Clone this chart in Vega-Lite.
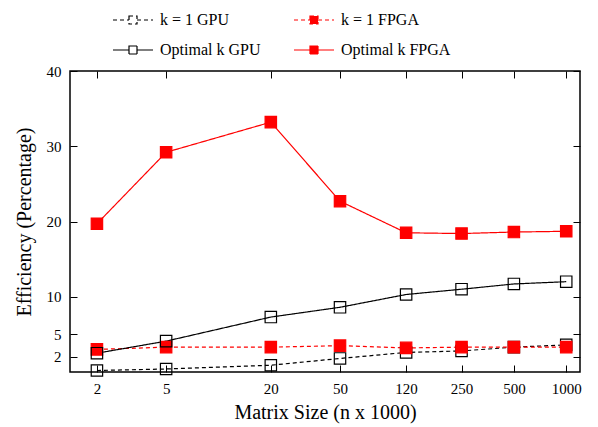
{
  "$schema": "https://vega.github.io/schema/vega-lite/v6.json",
  "autosize": "none",
  "width": 510,
  "height": 301,
  "padding": {"left": 70, "top": 71, "right": 18, "bottom": 55},
  "background": "white",
  "config": {
    "font": "Liberation Serif",
    "view": {"stroke": "black", "strokeWidth": 1.5},
    "axis": {"labelFont": "Liberation Serif", "titleFont": "Liberation Serif", "labelColor": "black", "titleColor": "black", "grid": false, "domain": false, "tickColor": "black", "labelFontSize": 15, "titleFontSize": 20, "titleFontWeight": "normal", "tickWidth": 1}
  },
  "data": {"values": [
    {"n": 2, "series": "k = 1 GPU", "eff": 0.2},
    {"n": 5, "series": "k = 1 GPU", "eff": 0.4},
    {"n": 20, "series": "k = 1 GPU", "eff": 0.9},
    {"n": 50, "series": "k = 1 GPU", "eff": 1.8},
    {"n": 120, "series": "k = 1 GPU", "eff": 2.6},
    {"n": 250, "series": "k = 1 GPU", "eff": 2.8},
    {"n": 500, "series": "k = 1 GPU", "eff": 3.3},
    {"n": 1000, "series": "k = 1 GPU", "eff": 3.6},
    {"n": 2, "series": "k = 1 FPGA", "eff": 3.0},
    {"n": 5, "series": "k = 1 FPGA", "eff": 3.3},
    {"n": 20, "series": "k = 1 FPGA", "eff": 3.3},
    {"n": 50, "series": "k = 1 FPGA", "eff": 3.5},
    {"n": 120, "series": "k = 1 FPGA", "eff": 3.2},
    {"n": 250, "series": "k = 1 FPGA", "eff": 3.3},
    {"n": 500, "series": "k = 1 FPGA", "eff": 3.3},
    {"n": 1000, "series": "k = 1 FPGA", "eff": 3.3},
    {"n": 2, "series": "Optimal k GPU", "eff": 2.5},
    {"n": 5, "series": "Optimal k GPU", "eff": 4.1},
    {"n": 20, "series": "Optimal k GPU", "eff": 7.3},
    {"n": 50, "series": "Optimal k GPU", "eff": 8.6},
    {"n": 120, "series": "Optimal k GPU", "eff": 10.3},
    {"n": 250, "series": "Optimal k GPU", "eff": 11.0},
    {"n": 500, "series": "Optimal k GPU", "eff": 11.7},
    {"n": 1000, "series": "Optimal k GPU", "eff": 12.0},
    {"n": 2, "series": "Optimal k FPGA", "eff": 19.7},
    {"n": 5, "series": "Optimal k FPGA", "eff": 29.2},
    {"n": 20, "series": "Optimal k FPGA", "eff": 33.2},
    {"n": 50, "series": "Optimal k FPGA", "eff": 22.7},
    {"n": 120, "series": "Optimal k FPGA", "eff": 18.5},
    {"n": 250, "series": "Optimal k FPGA", "eff": 18.4},
    {"n": 500, "series": "Optimal k FPGA", "eff": 18.6},
    {"n": 1000, "series": "Optimal k FPGA", "eff": 18.7}
  ]},
  "layer": [
    {
      "mark": {"type": "line", "clip": false},
      "encoding": {
        "x": {"field": "n", "type": "quantitative", "scale": {"type": "log", "domain": [1.4, 1200], "nice": false},
          "axis": {"values": [2, 5, 20, 50, 120, 250, 500, 1000], "tickSize": -7, "labelPadding": 16, "title": "Matrix Size (n x 1000)", "titlePadding": 6, "format": "d"}},
        "y": {"field": "eff", "type": "quantitative", "scale": {"domain": [0, 40], "nice": false},
          "axis": {"values": [2, 5, 10, 20, 30, 40], "tickSize": -7, "labelPadding": 16, "title": "Efficiency (Percentage)", "titlePadding": 12}},
        "color": {"field": "series", "type": "nominal",
          "scale": {"domain": ["k = 1 GPU", "k = 1 FPGA", "Optimal k GPU", "Optimal k FPGA"], "range": ["black", "#ff0000", "black", "#ff0000"]},
          "legend": {"title": null, "orient": "none", "legendX": 42, "legendY": -72, "columns": 2, "direction": "horizontal",
            "labelFont": "Liberation Serif", "labelFontSize": 16, "labelColor": "black", "labelOffset": 6, "columnPadding": 30, "rowPadding": 1,
            "symbolType": "M-1,0H-0.2M0.2,0H1M-0.2,-0.2H0.2V0.2H-0.2Z", "symbolSize": 1600, "symbolStrokeWidth": 1.5,
            "encode": {"symbols": {"update": {
              "fill": {"signal": "indexof(datum.value, 'FPGA') >= 0 ? '#ff0000' : 'transparent'"},
              "strokeDash": {"signal": "indexof(datum.value, 'k = 1') >= 0 ? [3, 2] : [1, 0]"},
              "strokeWidth": {"signal": "indexof(datum.value, 'k = 1') >= 0 ? 1.2 : 2.5"}
            }}}}},
        "strokeDash": {"field": "series", "type": "nominal", "scale": {"domain": ["k = 1 GPU", "k = 1 FPGA", "Optimal k GPU", "Optimal k FPGA"], "range": [[4, 3], [4, 3], [1, 0], [1, 0]]}, "legend": null},
        "strokeWidth": {"field": "series", "type": "nominal", "scale": {"domain": ["k = 1 GPU", "k = 1 FPGA", "Optimal k GPU", "Optimal k FPGA"], "range": [1.2, 1.2, 2.5, 2.5]}, "legend": null}
      }
    },
    {
      "mark": {"type": "point", "shape": "square", "size": 130, "clip": false, "opacity": 1},
      "encoding": {
        "x": {"field": "n", "type": "quantitative", "axis": {"orient": "top", "values": [2, 5, 20, 50, 120, 250, 500, 1000], "tickSize": -7, "labels": false, "title": null}},
        "y": {"field": "eff", "type": "quantitative", "axis": {"orient": "right", "values": [2, 5, 10, 20, 30, 40], "tickSize": -7, "labels": false, "title": null}},
        "stroke": {"field": "series", "type": "nominal", "scale": {"domain": ["k = 1 GPU", "k = 1 FPGA", "Optimal k GPU", "Optimal k FPGA"], "range": ["black", "#ff0000", "black", "#ff0000"]}, "legend": null},
        "fill": {"field": "series", "type": "nominal", "scale": {"domain": ["k = 1 GPU", "k = 1 FPGA", "Optimal k GPU", "Optimal k FPGA"], "range": ["transparent", "#ff0000", "transparent", "#ff0000"]}, "legend": null},
        "strokeWidth": {"field": "series", "type": "nominal", "scale": {"domain": ["k = 1 GPU", "k = 1 FPGA", "Optimal k GPU", "Optimal k FPGA"], "range": [1.2, 1.2, 2.5, 2.5]}, "legend": null}
      }
    }
  ],
  "resolve": {"axis": {"x": "independent", "y": "independent"}, "scale": {"stroke": "independent", "fill": "independent"}}
}
